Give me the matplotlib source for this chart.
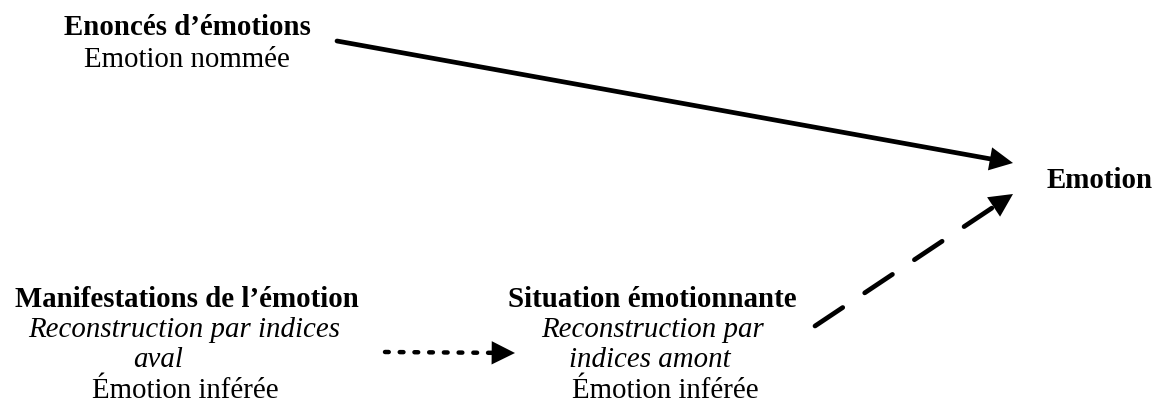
import numpy as np
import matplotlib.pyplot as plt
from matplotlib.patches import FancyArrowPatch

plt.rcParams['font.family'] = ['Liberation Serif', 'DejaVu Serif']
plt.rcParams['lines.scale_dashes'] = False

# text blocks: (x centre, baseline y, text, weight, style) in pixel coords
top_lines = [
    (187, 35, "Enoncés d’émotions", 'bold', 'normal'),
    (187, 67, "Emotion nommée", 'normal', 'normal'),
]
left_lines = [
    (187, 307, "Manifestations de l’émotion", 'bold', 'normal'),
    (184, 337, "Reconstruction par indices", 'normal', 'italic'),
    (158, 367, "aval", 'normal', 'italic'),
    (185, 398, "Émotion inférée", 'normal', 'normal'),
]
mid_lines = [
    (652, 307, "Situation émotionnante", 'bold', 'normal'),
    (653, 337, "Reconstruction par", 'normal', 'italic'),
    (650, 367, "indices amont", 'normal', 'italic'),
    (665, 398, "Émotion inférée", 'normal', 'normal'),
]
right_lines = [
    (1100, 188, "Emotion", 'bold', 'normal'),
]

# arrows: start, tip, style
arrow_start = [(337, 41), (815, 326), (385, 352)]
arrow_tip = [(1013, 163), (1013, 194), (515, 353)]
arrow_style = ['solid', 'dashed', 'dotted']

fig = plt.figure(figsize=(11.59, 4.09), dpi=100)
ax = fig.add_axes([0, 0, 1, 1])
ax.set_xlim(0, 1159)
ax.set_ylim(409, 0)
ax.axis('off')

for block in (top_lines, left_lines, mid_lines, right_lines):
    for x, y, s, w, st in block:
        ax.text(x, y, s, ha='center', va='baseline', fontsize=20.8,
                fontweight=w, fontstyle=st, color='black')

head_len = 22
for (x0, y0), (x1, y1), ls in zip(arrow_start, arrow_tip, arrow_style):
    d = np.array([x1 - x0, y1 - y0], dtype=float)
    d /= np.hypot(*d)
    bx, by = np.array([x1, y1]) - d * (head_len - 3)
    if ls == 'solid':
        ax.plot([x0, bx], [y0, by], color='black', lw=3.4, solid_capstyle='round')
    elif ls == 'dashed':
        ax.plot([x0, bx], [y0, by], color='black', lw=3.4, dashes=(24, 19),
                dash_capstyle='round')
    else:
        ax.plot([x0, bx], [y0, by], color='black', lw=3.2, dashes=(2.7, 7.9),
                dash_capstyle='round')
    tail = np.array([x1, y1]) - d * 35
    head = FancyArrowPatch(tuple(tail), (x1, y1),
                           arrowstyle='-|>,head_length=0.4,head_width=0.2',
                           mutation_scale=42, lw=0, color='black',
                           shrinkA=0, shrinkB=0)
    ax.add_patch(head)

fig.savefig('out.png', dpi=100)
